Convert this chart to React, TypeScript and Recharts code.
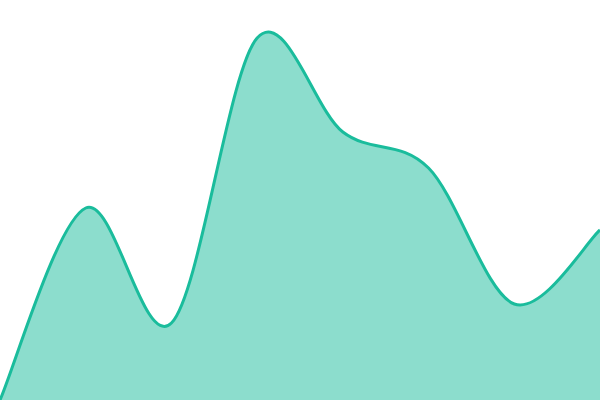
import { Area, AreaChart, XAxis, YAxis } from "recharts";

const steps = ["1", "2", "3", "4", "5", "6", "7", "8"];
const values = [0, 192, 77, 362, 268, 232, 96, 170];

const data = steps.map((s, i) => ({ step: s, value: values[i] }));

// cardinal spline (tension 0), same interface as a d3 curve factory
function smoothCurve(context: any) {
  let pts: [number, number][] = [];
  let line: number = NaN;
  return {
    areaStart() {
      line = 0;
    },
    areaEnd() {
      line = NaN;
    },
    lineStart() {
      pts = [];
    },
    point(x: number, y: number) {
      pts.push([+x, +y]);
    },
    lineEnd() {
      const n = pts.length;
      if (n > 0) {
        if (line) context.lineTo(pts[0][0], pts[0][1]);
        else context.moveTo(pts[0][0], pts[0][1]);
        const k = 1 / 6;
        for (let i = 0; i < n - 1; i++) {
          const p0 = pts[Math.max(i - 1, 0)];
          const p1 = pts[i];
          const p2 = pts[i + 1];
          const p3 = pts[Math.min(i + 2, n - 1)];
          context.bezierCurveTo(
            p1[0] + (p2[0] - p0[0]) * k,
            p1[1] + (p2[1] - p0[1]) * k,
            p2[0] - (p3[0] - p1[0]) * k,
            p2[1] - (p3[1] - p1[1]) * k,
            p2[0],
            p2[1],
          );
        }
      }
      if (line || (line !== 0 && n === 1)) context.closePath();
      line = 1 - line;
    },
  };
}

export default function App() {
  return (
    <div style={{ position: "absolute", left: 0, top: 0, width: 600, height: 400, background: "#fff" }}>
      <AreaChart width={600} height={400} data={data} margin={{ top: 0, right: 0, bottom: 0, left: 0 }}>
        <XAxis dataKey="step" hide padding={{ left: 0, right: 0 }} />
        <YAxis hide domain={[0, 400]} />
        <Area
          type={smoothCurve as any}
          dataKey="value"
          stroke="#1abc9c"
          strokeWidth={3}
          fill="#1abc9c"
          fillOpacity={0.5}
          dot={false}
          activeDot={false}
          isAnimationActive={false}
        />
      </AreaChart>
    </div>
  );
}
